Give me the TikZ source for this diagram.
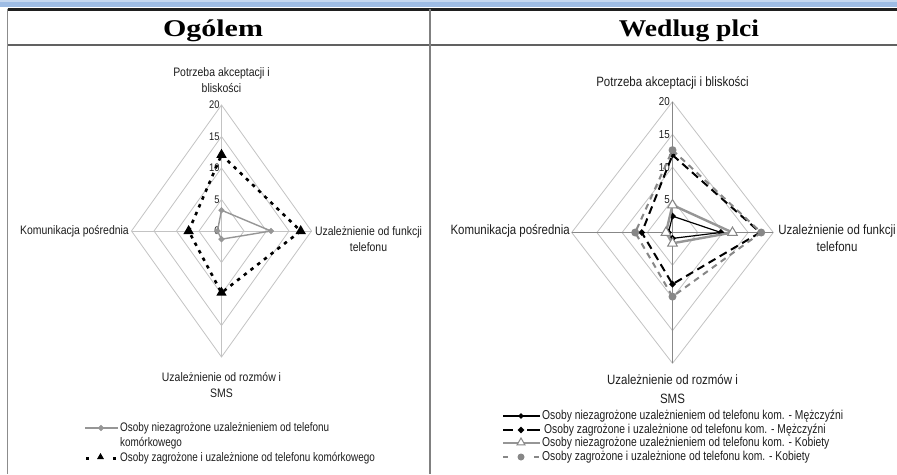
\documentclass[tikz,border=0pt]{standalone}
\usepackage{fontspec}
\setmainfont{Liberation Sans}
\newfontfamily\labA[FakeStretch=0.85]{Liberation Sans}
\newfontfamily\legA[FakeStretch=0.8]{Liberation Sans}
\newfontfamily\ttlA[FakeStretch=1.25]{Liberation Serif}
\newfontfamily\ttlB[FakeStretch=1.15]{Liberation Serif}
\usetikzlibrary{shapes.geometric}
\definecolor{gridc}{RGB}{195,195,195}
\definecolor{spokec}{RGB}{135,135,135}
\definecolor{serg}{RGB}{150,150,150}
\definecolor{sergb}{RGB}{135,135,135}
\definecolor{barblue}{RGB}{158,188,228}
\definecolor{txtc}{RGB}{30,30,30}
\tikzset{
  gridline/.style={draw=gridc, line width=0.8pt},
  spokeR/.style={draw=spokec, line width=1.8pt},
  ticklbl/.style={font=\labA\fontsize{11}{12}\selectfont, text=txtc, inner sep=0.5pt, anchor=east},
  axlblA/.style={font=\labA\fontsize{12.3}{16}\selectfont, text=txtc, inner sep=0pt, align=center},
  axlblB/.style={font=\labA\fontsize{13.5}{17}\selectfont, text=txtc, inner sep=0pt, align=center},
  legtxtA/.style={font=\legA\fontsize{12.4}{15}\selectfont, text=txtc, inner sep=0pt, anchor=west},
  legtxtB/.style={font=\legA\fontsize{12.9}{15}\selectfont, text=txtc, inner sep=0pt, anchor=west},
  serA/.style={draw=serg, line width=1.4pt},
  serAdash/.style={draw=black, line width=2.6pt, dash pattern=on 3.5pt off 5pt},
  serB1/.style={draw=black, line width=1.2pt},
  serB2/.style={draw=black, line width=2pt, dash pattern=on 8pt off 5pt},
  serB3/.style={draw=serg, line width=2.4pt},
  serB4/.style={draw=sergb, line width=2pt, dash pattern=on 6pt off 5pt},
  mdiaG/.style={diamond, fill=serg, draw=serg, minimum size=6pt, inner sep=0pt},
  mdiaK/.style={diamond, fill=black, minimum size=7pt, inner sep=0pt},
  mtriK/.style={regular polygon, regular polygon sides=3, fill=black, minimum size=12pt, inner sep=0pt},
  mtriO/.style={regular polygon, regular polygon sides=3, fill=white, draw=sergb, line width=1pt, minimum size=11pt, inner sep=0pt},
  mcirG/.style={circle, fill=sergb, minimum size=8pt, inner sep=0pt}
}
\begin{document}
\begin{tikzpicture}[x=1pt,y=-1pt]
\useasboundingbox (0,0) rectangle (897,474);
\fill[white] (0,0) rectangle (897,474);
% top blue bar
\fill[barblue] (0,0) rectangle (897,7);
\fill[barblue!60!white] (0,0) rectangle (897,2);
% table frame
\draw[line width=2.2pt, black!88] (7.5,9.5) -- (897,9.5);
\draw[line width=2pt, black!62] (7.5,44.5) -- (897,44.5);
\draw[line width=1.4pt, black!45] (7.5,8.5) -- (7.5,474);
\draw[line width=1.5pt, black!50] (430,8.5) -- (430,474);
% titles
\node[anchor=base, inner sep=0pt, font=\ttlA\bfseries\fontsize{24}{28}\selectfont] (t1) at (213,36.5) {Ogólem};
\node[anchor=base, inner sep=0pt, font=\ttlB\bfseries\fontsize{24}{28}\selectfont] (t2) at (689,36.5) {Wedlug plci};

% ---------------- left chart ----------------
\begin{scope}[shift={(221.5,231)}, x=4.5pt, y=6.3pt]
  \foreach \r in {5,10,15,20}
    \draw[gridline] (0,\r) -- (\r,0) -- (0,-\r) -- (-\r,0) -- cycle;
  \draw[gridline] (0,20) -- (0,-20) (-20,0) -- (20,0);
  \foreach \v in {0,5,10,15,20}
    \node[ticklbl] (lt\v) at (-0.3,\v) {\v};
  \coordinate (a1) at (0,3.3);
  \coordinate (b1) at (11,0);
  \coordinate (c1) at (0,-1.3);
  \coordinate (d1) at (-0.9,0);
  \coordinate (a2) at (0,12.1);
  \coordinate (b2) at (17.6,0);
  \coordinate (c2) at (0,-9.8);
  \coordinate (d2) at (-7.3,0);
  \draw[serA] (a1) -- (b1) -- (c1) -- (d1) -- cycle;
  \foreach \p in {a1,b1,c1,d1} \node[mdiaG] (m\p) at (\p) {};
  \draw[serAdash] (a2) -- (b2) -- (c2) -- (d2) -- cycle;
  \foreach \p in {a2,b2,c2,d2} \node[mtriK] (m\p) at (\p) {};
\end{scope}
\node[axlblA] (la1) at (221.5,79.7) {Potrzeba akceptacji i\\bliskości};
\node[axlblA, anchor=east] (la2) at (129,231) {Komunikacja pośrednia};
\node[axlblA] (la3) at (368.5,239) {Uzależnienie od funkcji\\telefonu};
\node[axlblA] (la4) at (221.5,385.5) {Uzależnienie od rozmów i\\SMS};
% left legend
\coordinate (lg1s) at (85,428);
\coordinate (lg1e) at (118,428);
\draw[serA] (lg1s) -- (lg1e);
\node[mdiaG] (lg1m) at (101,428) {};
\node[legtxtA] (lg1t) at (120,428) {Osoby niezagrożone uzależnieniem  od telefonu};
\node[legtxtA] (lg2t) at (120,443) {komórkowego};
\coordinate (lg3s) at (86,458);
\coordinate (lg3e) at (118,458);
\draw[black, line width=3pt, dash pattern=on 3pt off 24pt] (lg3s) -- (lg3e);
\node[mtriK, minimum size=8pt] (lg3m) at (100.5,457) {};
\node[legtxtA] (lg3t) at (120,458) {Osoby zagrożone i uzależnione od  telefonu komórkowego};

% ---------------- right chart ----------------
\begin{scope}[shift={(672.5,232.5)}, x=5.04pt, y=6.54pt]
  \foreach \r in {5,10,15,20}
    \draw[gridline] (0,\r) -- (\r,0) -- (0,-\r) -- (-\r,0) -- cycle;
  \draw[spokeR] (0,20) -- (0,-20) (-20,0) -- (20,0);
  \foreach \v in {0,5,10,15,20}
    \node[ticklbl, font=\labA\fontsize{11.5}{12}\selectfont] (rt\v) at (-0.4,\v) {\v};
  \coordinate (p1) at (0,2.5);
  \coordinate (q1) at (9.6,0);
  \coordinate (r1) at (0,-0.9);
  \coordinate (s1) at (-0.8,0);
  \coordinate (p2) at (0,11.85);
  \coordinate (q2) at (17.4,0);
  \coordinate (r2) at (0,-7.9);
  \coordinate (s2) at (-6.1,0);
  \coordinate (p3) at (0,4.2);
  \coordinate (q3) at (11.9,0);
  \coordinate (r3) at (0,-1.65);
  \coordinate (s3) at (-1.3,0);
  \coordinate (p4) at (0,12.6);
  \coordinate (q4) at (17.6,0);
  \coordinate (r4) at (0,-9.8);
  \coordinate (s4) at (-7.4,0);
  \draw[serB1] (p1) -- (q1) -- (r1) -- (s1) -- cycle;
  \foreach \p in {p1,q1,r1,s1} \node[mdiaK] (m\p) at (\p) {};
  \draw[serB2] (p2) -- (q2) -- (r2) -- (s2) -- cycle;
  \foreach \p in {p2,q2,r2,s2} \node[mdiaK] (m\p) at (\p) {};
  \draw[serB3] (p3) -- (q3) -- (r3) -- (s3) -- cycle;
  \foreach \p in {p3,q3,r3,s3} \node[mtriO] (m\p) at (\p) {};
  \draw[serB4] (p4) -- (q4) -- (r4) -- (s4) -- cycle;
  \foreach \p in {p4,q4,r4,s4} \node[mcirG] (m\p) at (\p) {};
\end{scope}
\node[axlblB] (ra1) at (672.5,83) {Potrzeba akceptacji i bliskości};
\node[axlblB, anchor=east] (ra2) at (570,230.5) {Komunikacja pośrednia};
\node[axlblB] (ra3) at (837,238) {Uzależnienie od funkcji\\telefonu};
\node[axlblB, font=\labA\fontsize{13.5}{19}\selectfont] (ra4) at (672.5,389.5) {Uzależnienie od rozmów i\\SMS};
% right legend
\coordinate (rg1s) at (503,416);
\coordinate (rg1e) at (540,416);
\draw[serB1] (rg1s) -- (rg1e);
\node[mdiaK, minimum size=6pt] (rg1m) at (521,416) {};
\node[legtxtB] (rg1t) at (542,416) {Osoby niezagrożone uzależnieniem  od telefonu kom. - Mężczyźni};
\coordinate (rg2s) at (503,430);
\coordinate (rg2e) at (540,430);
\draw[black, line width=2.4pt, dash pattern=on 10pt off 14pt on 13pt off 2pt] (rg2s) -- (rg2e);
\node[mdiaK] (rg2m) at (521,430) {};
\node[legtxtB] (rg2t) at (544,430) {Osoby zagrożone i uzależnione od  telefonu kom. - Mężczyźni};
\coordinate (rg3s) at (503,443);
\coordinate (rg3e) at (540,443);
\draw[serB3, line width=2pt] (rg3s) -- (rg3e);
\node[mtriO, minimum size=9pt] (rg3m) at (521,442.5) {};
\node[legtxtB] (rg3t) at (542,443) {Osoby niezagrożone uzależnieniem  od telefonu kom. - Kobiety};
\coordinate (rg4s) at (503,457);
\coordinate (rg4e) at (540,457);
\draw[sergb, line width=2.4pt, dash pattern=on 5pt off 26pt on 5pt off 2pt] (rg4s) -- (rg4e);
\node[mcirG, minimum size=7pt] (rg4m) at (521,457) {};
\node[legtxtB] (rg4t) at (542,457) {Osoby zagrożone i uzależnione od telefonu kom. - Kobiety};
\end{tikzpicture}
\end{document}
